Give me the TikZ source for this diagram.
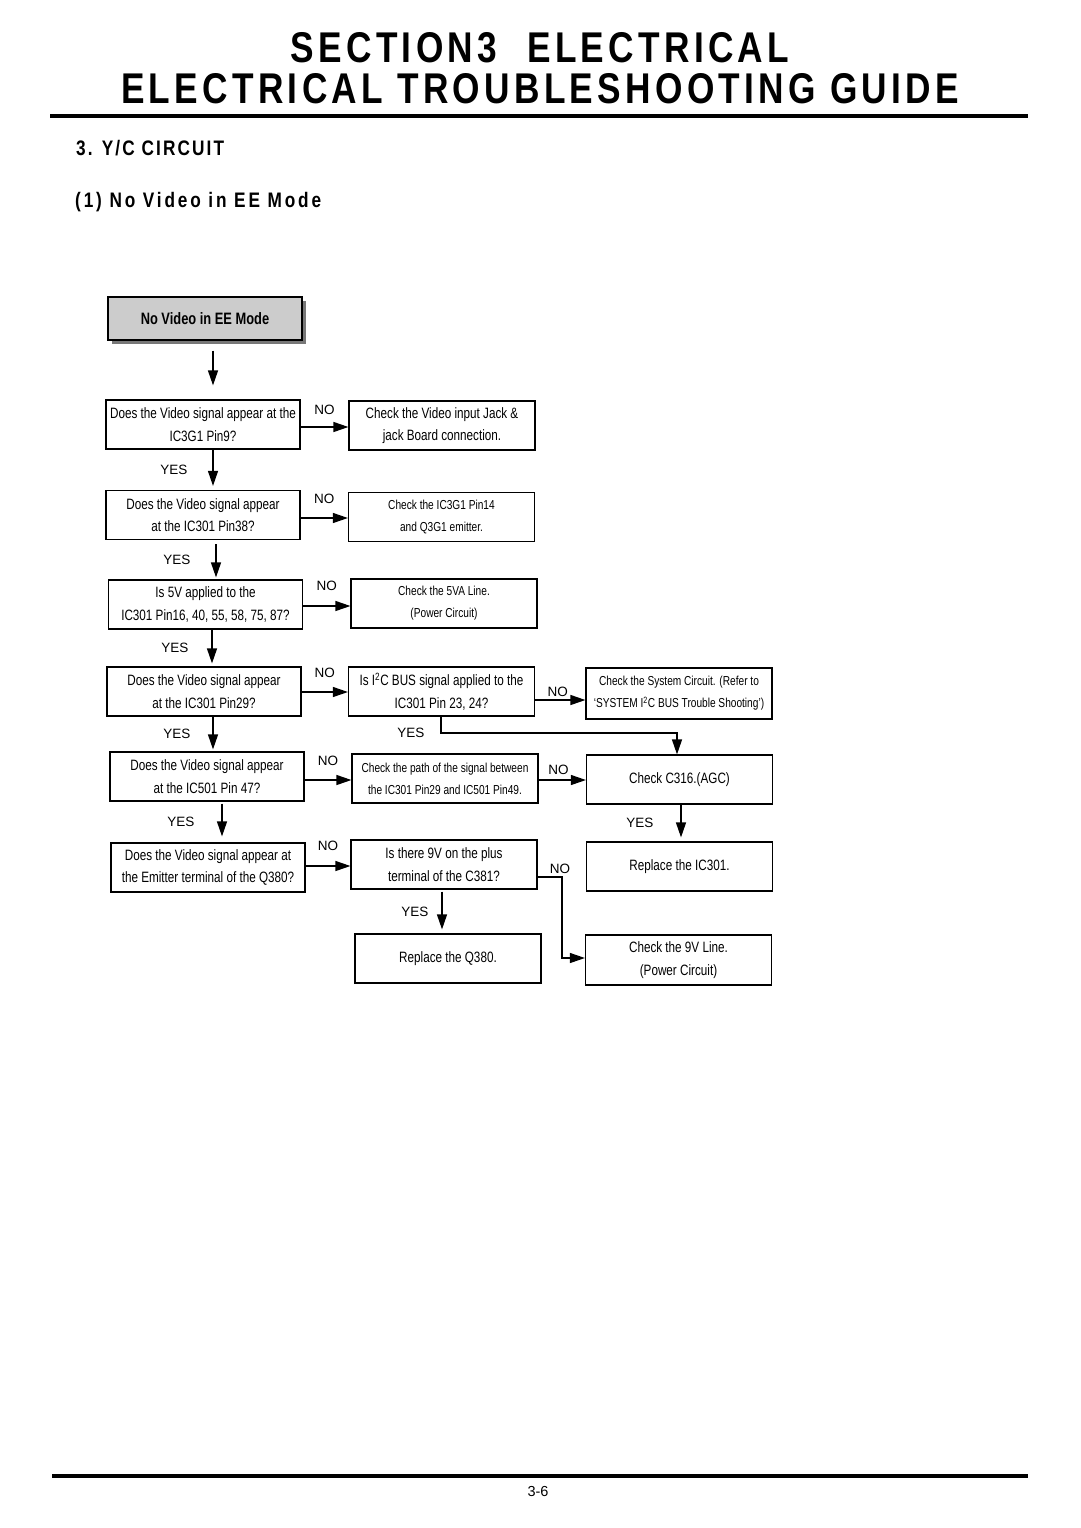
\documentclass[tikz,border=0pt]{standalone}
\usepackage{fontspec}
\setmainfont{Liberation Sans}
\newfontfamily\condfont[FakeStretch=0.78]{Liberation Sans}
\newfontfamily\headfont[FakeStretch=0.82, LetterSpace=10]{Liberation Sans}
\newfontfamily\subfont[FakeStretch=0.82, LetterSpace=13.5]{Liberation Sans}
\usetikzlibrary{arrows.meta,shadows}

\definecolor{startgray}{RGB}{204,204,204}
\definecolor{shadowgray}{RGB}{120,120,120}

\tikzset{
  qbox/.style={draw, line width=1.2pt, inner sep=0pt, align=center,
    minimum width=194pt, minimum height=49pt,
    font=\condfont\fontsize{15pt}{22.5pt}\selectfont},
  abox/.style={qbox, minimum width=186pt},
  smallbox/.style={abox, font=\condfont\fontsize{13pt}{22pt}\selectfont},
  startbox/.style={qbox, fill=startgray, minimum height=43pt,
    font=\condfont\fontsize{16.5pt}{18pt}\selectfont\bfseries,
    drop shadow={shadow xshift=4pt, shadow yshift=-4pt, fill=shadowgray, opacity=1}},
  arr/.style={-{Triangle[length=15pt,width=10pt]}, line width=1.2pt},
  lab/.style={font=\fontsize{13.5pt}{16pt}\selectfont, inner sep=0pt},
  headline/.style={anchor=base, inner sep=0pt, font=\headfont\fontsize{43pt}{46pt}\selectfont\bfseries},
  subhead/.style={anchor=base west, inner sep=0pt, font=\headfont\fontsize{21pt}{24pt}\selectfont\bfseries},
}

\begin{document}
\begin{tikzpicture}[x=1pt,y=-1pt]
  \useasboundingbox (0,0) rectangle (1080,1528);

  % page head
  \node[headline] (head1) at (540,63) {SECTION3\hspace{30pt}ELECTRICAL};
  \node[headline] (head2) at (540,103.5) {ELECTRICAL TROUBLESHOOTING GUIDE};
  \draw[line width=3.5pt] (50,116) -- (1028,116);
  \node[subhead] (sect) at (76,155.5) {3. Y/C CIRCUIT};
  \node[subhead, font=\subfont\fontsize{21pt}{24pt}\selectfont\bfseries] (sub) at (75,207.5)
    {(1) No Video in EE Mode};

  % boxes
  \node[startbox] (start) at (205,318.5) {No Video in EE Mode};

  \node[qbox] (a1) at (203,424.5) {Does the Video signal appear at the\\IC3G1 Pin9?};
  \node[qbox] (a2) at (203,515) {Does the Video signal appear\\at the IC301 Pin38?};
  \node[qbox] (a3) at (205.5,604.5) {Is 5V applied to the\\IC301 Pin16, 40, 55, 58, 75, 87?};
  \node[qbox] (a4) at (204,691.5) {Does the Video signal appear\\at the IC301 Pin29?};
  \node[qbox] (a5) at (207,776.5) {Does the Video signal appear\\at the IC501 Pin 47?};
  \node[qbox] (a6) at (208,867.5) {Does the Video signal appear at\\the Emitter terminal of the Q380?};

  \node[abox] (b1) at (442,425.5) {Check the Video input Jack \&\\jack Board connection.};
  \node[smallbox] (b2) at (441.5,517) {Check the IC3G1 Pin14\\and Q3G1 emitter.};
  \node[smallbox] (b3) at (444,603.5) {Check the 5VA Line.\\(Power Circuit)};
  \node[abox] (b4) at (441.5,691.5) {Is I\textsuperscript{2}C BUS signal applied to the\\IC301 Pin 23, 24?};
  \node[smallbox] (b5) at (445,778.5) {Check the path of the signal between\\the IC301 Pin29 and IC501 Pin49.};
  \node[abox] (b6) at (444,864.5) {Is there 9V on the plus\\terminal of the C381?};
  \node[abox] (b7) at (448,958.5) {Replace the Q380.};

  \node[smallbox, minimum height=51pt] (c4) at (679,693.5)
    {Check the System Circuit. (Refer to\\‘SYSTEM I\textsuperscript{2}C BUS Trouble Shooting’)};
  \node[abox] (c5) at (679.5,779.5) {Check C316.(AGC)};
  \node[abox] (c6) at (679.5,866.5) {Replace the IC301.};
  \node[abox, minimum height=50pt] (c7) at (678.5,960) {Check the 9V Line.\\(Power Circuit)};

  % yes path
  \draw[arr, shorten <=10pt, shorten >=14pt] (start.south -| 213,0) -- (a1.north -| 213,0);
  \draw[arr, shorten >=4pt] (a1.south -| 213,0) -- (a2.north -| 213,0)
    node[midway, lab, left=25pt] {YES};
  \draw[arr, shorten <=4pt, shorten >=2pt] (a2.south -| 216,0) -- (a3.north -| 216,0)
    node[midway, lab, left=25pt] {YES};
  \draw[arr, shorten >=3pt] (a3.south -| 212,0) -- (a4.north -| 212,0)
    node[midway, lab, left=23pt] {YES};
  \draw[arr, shorten >=2pt] (a4.south -| 213,0) -- (a5.north -| 213,0)
    node[midway, lab, left=22pt] {YES};
  \draw[arr, shorten <=2pt, shorten >=6pt] (a5.south -| 222,0) -- (a6.north -| 222,0)
    node[midway, lab, left=27pt] {YES};

  % no branches
  \draw[arr] (a1.east |- 0,427) -- (b1.west |- 0,427) node[midway, lab, above=12pt] {NO};
  \draw[arr] (a2.east |- 0,518) -- (b2.west |- 0,518) node[midway, lab, above=14pt] {NO};
  \draw[arr] (a3.east |- 0,606) -- (b3.west |- 0,606) node[midway, lab, above=15pt] {NO};
  \draw[arr] (a4.east |- 0,692) -- (b4.west |- 0,692) node[midway, lab, above=14pt] {NO};
  \draw[arr] (a5.east |- 0,780) -- (b5.west |- 0,780) node[midway, lab, above=14pt] {NO};
  \draw[arr] (a6.east |- 0,866) -- (b6.west |- 0,866) node[midway, lab, above=15pt] {NO};

  \draw[arr] (b4.east |- 0,700) -- (c4.west |- 0,700) node[pos=0.45, lab, above=3pt] {NO};
  \draw[arr] (b5.east |- 0,780) -- (c5.west |- 0,780) node[pos=0.42, lab, above=5pt] {NO};
  \coordinate (k4) at (441,733);
  \coordinate (k6) at (562,877);
  \draw[arr] (b4.south -| k4) -- (k4) node[lab, left=16pt] {YES} -| (c5.north -| 677,0);
  \draw[arr] (b6.east |- k6) -- (k6) node[lab, above=3pt, xshift=-2pt] {NO} |- (c7.west |- 0,958);
  \draw[arr, shorten <=2pt, shorten >=4pt] (b6.south -| 442,0) -- (b7.north -| 442,0)
    node[midway, lab, left=13pt] {YES};
  \draw[arr, shorten >=4pt] (c5.south -| 681,0) -- (c6.north -| 681,0)
    node[midway, lab, left=27pt] {YES};

  % page foot
  \draw[line width=4pt] (52,1476) -- (1028,1476);
  \node[font=\fontsize{14.5pt}{16pt}\selectfont] (page) at (538,1491) {3-6};
\end{tikzpicture}
\end{document}
